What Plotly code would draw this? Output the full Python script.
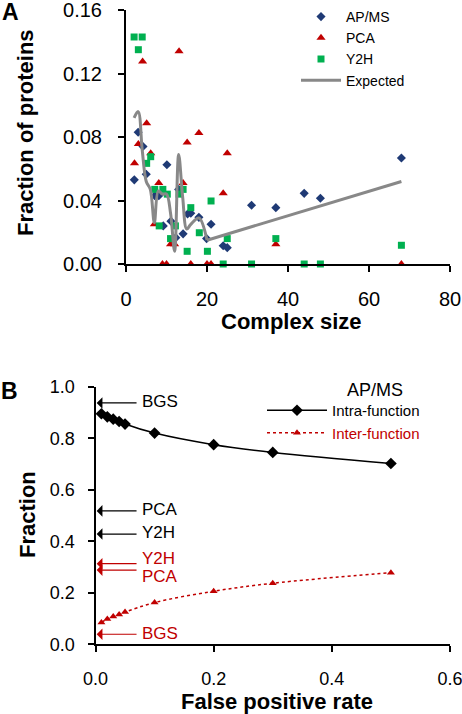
import plotly.graph_objects as go

W, H = 462, 714

# ---------------- Panel A data ----------------
apms_size = [2.05, 3, 4.2, 5, 7.1, 8.1, 9.2, 10.1, 11.1, 12.3, 13, 14.1, 15.2, 16, 18, 19.9, 21, 24, 25, 31, 37, 44, 48, 68]
apms_frac = [0.053, 0.083, 0.074, 0.0565, 0.043, 0.043, 0.024, 0.0625, 0.027, 0.0166, 0.047, 0.019, 0.0315, 0.032, 0.0294, 0.016, 0.025, 0.0115, 0.0103, 0.037, 0.0355, 0.0445, 0.0414, 0.0668]

pca_size = [2.1, 3.05, 4.1, 5.1, 6.1, 7, 8.1, 9, 10, 11, 12, 13.1, 14.1, 15.1, 16, 18, 20, 21, 24, 25, 37, 68]
pca_frac = [0.0634, 0.0756, 0.1275, 0.0887, 0.0697, 0.025, 0.051, 0, 0, 0.0124, 0.0124, 0.134, 0.051, 0.0765, 0, 0.0825, 0, 0, 0.0445, 0.0697, 0.0125, 0]

y2h_size = [2, 3.05, 4, 5.1, 6.1, 7.1, 8.2, 9.1, 10.2, 11, 12.2, 13.1, 14.1, 15.1, 16, 18.1, 20.1, 21, 24, 25, 31, 37, 44, 48, 68]
y2h_frac = [0.143, 0.135, 0.143, 0.0634, 0.0676, 0.047, 0.024, 0.047, 0.044, 0.016, 0.024, 0.044, 0.047, 0.008, 0.0355, 0.0197, 0.008, 0.0397, 0, 0.016, 0, 0.016, 0, 0, 0.0118]

exp_size = [2, 3, 4, 5, 6, 7, 8, 9, 10, 11, 12, 13, 14, 15, 16, 18, 20, 68]
exp_frac = [0.092, 0.096, 0.072, 0.052, 0.047, 0.026, 0.046, 0.044, 0.044, 0.032, 0.008, 0.069, 0.042, 0.022, 0.025, 0.029, 0.015, 0.052]

# ---------------- Panel B data ----------------
fpr = [0.01, 0.02, 0.03, 0.04, 0.05, 0.1, 0.2, 0.3, 0.5]
intra = [0.895, 0.883, 0.874, 0.865, 0.855, 0.82, 0.775, 0.745, 0.702]
inter = [0.085, 0.098, 0.108, 0.116, 0.125, 0.162, 0.206, 0.237, 0.278]

ref_black_labels = ["BGS", "PCA", "Y2H"]
ref_black_vals = [0.937, 0.518, 0.428]
ref_black_text_y = [0.944, 0.525, 0.433]
ref_red_labels = ["Y2H", "PCA", "BGS"]
ref_red_vals = [0.313, 0.288, 0.039]
ref_red_text_y = [0.333, 0.262, 0.043]

BLUE = "#1F3A75"
RED = "#C00000"
GREEN = "#00B050"
GRAY = "#888888"
FONT = "Arial, Liberation Sans, sans-serif"


def fx(p):
    return p / W


def fy(p):
    return 1 - p / H


fig = go.Figure()

fig.add_trace(go.Scatter(x=apms_size, y=apms_frac, mode="markers", name="AP/MS",
                         marker=dict(symbol="diamond", size=7, color=BLUE),
                         cliponaxis=False, xaxis="x", yaxis="y", legend="legend"))
fig.add_trace(go.Scatter(x=pca_size, y=pca_frac, mode="markers", name="PCA",
                         marker=dict(symbol="triangle-up", size=8, color=RED),
                         cliponaxis=False, xaxis="x", yaxis="y", legend="legend"))
fig.add_trace(go.Scatter(x=y2h_size, y=y2h_frac, mode="markers", name="Y2H",
                         marker=dict(symbol="square", size=7, color=GREEN),
                         cliponaxis=False, xaxis="x", yaxis="y", legend="legend"))
# expected: smooth part over small complexes, then straight tail
n_smooth = exp_size.index(20) + 1
fig.add_trace(go.Scatter(x=exp_size[:n_smooth], y=exp_frac[:n_smooth], mode="lines", name="Expected",
                         line=dict(color=GRAY, width=3, shape="spline", smoothing=1.0),
                         legendgroup="exp", xaxis="x", yaxis="y", legend="legend"))
fig.add_trace(go.Scatter(x=exp_size[n_smooth - 1:], y=exp_frac[n_smooth - 1:], mode="lines", name="Expected",
                         line=dict(color=GRAY, width=3), legendgroup="exp", showlegend=False,
                         xaxis="x", yaxis="y", legend="legend"))

fig.add_trace(go.Scatter(x=fpr, y=intra, mode="lines+markers", name="Intra-function",
                         line=dict(color="black", width=1.5, shape="spline"),
                         marker=dict(symbol="diamond", size=9, color="black"),
                         cliponaxis=False, xaxis="x2", yaxis="y2", legend="legend2"))
fig.add_trace(go.Scatter(x=fpr, y=inter, mode="lines+markers",
                         name='<span style="color:#C00000">Inter-function</span>',
                         line=dict(color=RED, width=1.5, dash="dot", shape="spline"),
                         marker=dict(symbol="triangle-up", size=7, color=RED),
                         cliponaxis=False, xaxis="x2", yaxis="y2", legend="legend2"))

axis_common = dict(showline=True, linecolor="black", linewidth=2, ticks="outside",
                   ticklen=6, tickwidth=2, tickcolor="black", showgrid=False,
                   zeroline=False, mirror=False, automargin=False,
                   ticklabeloverflow="allow")

fig.update_layout(
    template="none",
    width=W, height=H,
    margin=dict(l=0, r=0, t=0, b=0, autoexpand=False),
    paper_bgcolor="white", plot_bgcolor="white",
    font=dict(family=FONT, color="black"),
    xaxis=dict(domain=[fx(126), fx(450)], range=[0, 80.001], tickvals=[0, 20, 40, 60, 80],
               anchor="y", tickfont=dict(size=20), ticklabelstandoff=10, **axis_common),
    yaxis=dict(domain=[fy(264), fy(10)], range=[0, 0.16001],
               tickvals=[0, 0.04, 0.08, 0.12, 0.16], tickformat=".2f",
               anchor="x", tickfont=dict(size=20), ticklabelstandoff=12, **axis_common),
    xaxis2=dict(domain=[fx(95.5), fx(450)], range=[0, 0.60001], tickvals=[0, 0.2, 0.4, 0.6],
                tickformat=".1f", anchor="y2", tickfont=dict(size=18), ticklabelstandoff=11,
                **axis_common),
    yaxis2=dict(domain=[fy(644.3), fy(386.7)], range=[0, 1.0001],
                tickvals=[0, 0.2, 0.4, 0.6, 0.8, 1.0], tickformat=".1f",
                anchor="x2", tickfont=dict(size=18), ticklabelstandoff=9, **axis_common),
    legend=dict(x=fx(296), y=fy(1), xanchor="left", yanchor="top",
                bgcolor="rgba(0,0,0,0)", font=dict(family=FONT, size=14),
                tracegroupgap=0, itemsizing="trace", itemwidth=40),
    legend2=dict(x=fx(262), y=fy(394), xanchor="left", yanchor="top",
                 bgcolor="rgba(0,0,0,0)", font=dict(family=FONT, size=15),
                 itemwidth=60),
    showlegend=True,
)

annotations = []
annotations.append(dict(text="<b>Complex size</b>", x=fx(291.7), y=fy(321.5), xref="paper", yref="paper",
                        showarrow=False, font=dict(size=22), xanchor="center", yanchor="middle"))
annotations.append(dict(text="<b>Fraction of proteins</b>", x=fx(25), y=fy(133), xref="paper", yref="paper",
                        showarrow=False, font=dict(size=22), textangle=-90, xanchor="center", yanchor="middle"))
annotations.append(dict(text="<b>False positive rate</b>", x=fx(277), y=fy(701), xref="paper", yref="paper",
                        showarrow=False, font=dict(size=22), xanchor="center", yanchor="middle"))
annotations.append(dict(text="<b>Fraction</b>", x=fx(27), y=fy(515), xref="paper", yref="paper",
                        showarrow=False, font=dict(size=22), textangle=-90, xanchor="center", yanchor="middle"))
annotations.append(dict(text="<b>A</b>", x=fx(10), y=fy(12), xref="paper", yref="paper",
                        showarrow=False, font=dict(size=23), xanchor="center", yanchor="middle"))
annotations.append(dict(text="<b>B</b>", x=fx(9), y=fy(391), xref="paper", yref="paper",
                        showarrow=False, font=dict(size=23), xanchor="center", yanchor="middle"))
annotations.append(dict(text="AP/MS", x=fx(375), y=fy(390), xref="paper", yref="paper",
                        showarrow=False, font=dict(size=18), xanchor="center", yanchor="middle"))

for lab, v, ty in zip(ref_black_labels, ref_black_vals, ref_black_text_y):
    annotations.append(dict(x=0.002, y=v, ax=0.072, ay=v, xref="x2", yref="y2", axref="x2", ayref="y2",
                            text="", showarrow=True, arrowhead=1, arrowsize=1.6, arrowwidth=1.2,
                            arrowcolor="black"))
    annotations.append(dict(x=0.075, y=ty, xref="x2", yref="y2", text=lab, showarrow=False,
                            xanchor="left", yanchor="middle", font=dict(size=17, color="black")))
for lab, v, ty in zip(ref_red_labels, ref_red_vals, ref_red_text_y):
    annotations.append(dict(x=0.002, y=v, ax=0.072, ay=v, xref="x2", yref="y2", axref="x2", ayref="y2",
                            text="", showarrow=True, arrowhead=1, arrowsize=1.6, arrowwidth=1.2,
                            arrowcolor=RED))
    annotations.append(dict(x=0.075, y=ty, xref="x2", yref="y2", text=lab, showarrow=False,
                            xanchor="left", yanchor="middle", font=dict(size=17, color=RED)))

fig.update_layout(annotations=annotations)

fig.write_html("out.html", config={"displayModeBar": False},
               post_script="document.body.style.margin='0px';document.body.style.overflow='hidden';")
